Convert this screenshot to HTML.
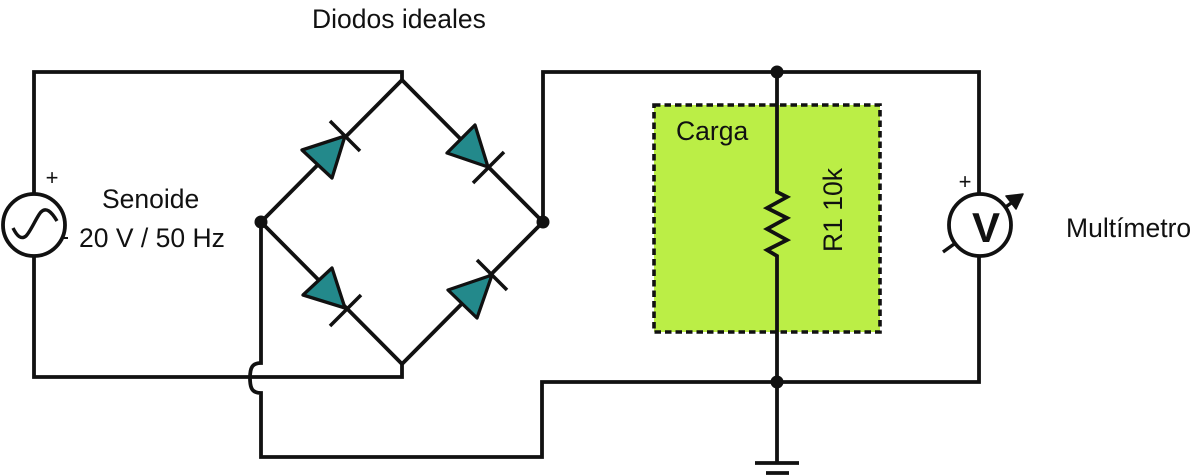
<!DOCTYPE html>
<html>
<head>
<meta charset="utf-8">
<style>
html,body{margin:0;padding:0;background:#fff;}
svg{display:block;}
text{font-family:"Liberation Sans",Arial,sans-serif;fill:#111;}
</style>
</head>
<body>
<svg width="1200" height="476" viewBox="0 0 1200 476" xmlns="http://www.w3.org/2000/svg">
  <rect width="1200" height="476" fill="#fff"/>

  <!-- Load box -->
  <rect x="654" y="105" width="226" height="227" fill="#bbee46" stroke="#111" stroke-width="3.6" stroke-dasharray="6.5 4" stroke-linecap="butt"/>

  <g fill="none" stroke="#111" stroke-width="3.8" stroke-linejoin="miter" stroke-linecap="butt">
    <!-- source top wire -->
    <path d="M34,194 V72 H402 V80"/>
    <!-- diamond -->
    <path d="M402,80 L261,222 L402,364 L543,222 Z"/>
    <!-- source bottom wire -->
    <path d="M402,364 V377 H34 V257"/>
    <!-- left node down with hop -->
    <path d="M261,222 V363 C252,363 250,368 250,378 C250,388 252,393 261,393 V457 H542 V382 H979 V256"/>
    <!-- right node up -->
    <path d="M543,222 V72 H979 V194"/>
    <!-- resistor branch -->
    <path d="M777,72 V192 L787,197 L767,208 L787,218 L767,229 L787,240 L767,250 L777,256 V382 V463"/>
    <!-- ground -->
    <path d="M755,463 H799"/>
    <path d="M766,473 H789"/>
    <!-- minus sign of source -->
    <path d="M62,238 H68" stroke-width="2"/>
    <!-- voltmeter arrow line -->
    <path d="M943,252 L1014,201" stroke-width="3.4"/>
  </g>

  <!-- source -->
  <circle cx="34" cy="225" r="31" fill="#fff" stroke="#111" stroke-width="3.8"/>
  <path d="M13,228 C17,236 21,240 26,236 C31,231 37,216 41,212 C46,207 51,211 57,221" fill="none" stroke="#111" stroke-width="3.4"/>

  <!-- voltmeter -->
  <circle cx="980" cy="225" r="31" fill="#fff" stroke="#111" stroke-width="3.8"/>
  <polygon points="1023,194 1016,209 1006,196" fill="#111" stroke="#111" stroke-width="1.5" stroke-linejoin="round"/>
  <text x="986" y="242" font-size="42" font-weight="bold" text-anchor="middle">V</text>

  <!-- diodes -->
  <g fill="#23898b" stroke="#111" stroke-width="3.3" stroke-linejoin="round">
    <polygon points="345,136 302,150 332,178"/>
    <polygon points="488,167 447,153 475,125"/>
    <polygon points="345,308 303,295 332,268"/>
    <polygon points="492,275 448,290 477,318"/>
  </g>
  <g stroke="#111" stroke-width="3.5" fill="none">
    <path d="M330,121 L360,151"/>
    <path d="M473,183 L504,152"/>
    <path d="M330,326 L361,295"/>
    <path d="M477,260 L507,290"/>
  </g>

  <!-- nodes -->
  <g fill="#111">
    <circle cx="261" cy="222" r="6.5"/>
    <circle cx="543" cy="222" r="6.5"/>
    <circle cx="777" cy="72" r="6.5"/>
    <circle cx="777" cy="382" r="6.5"/>
  </g>

  <!-- labels -->
  <text x="312" y="28" font-size="26.5">Diodos ideales</text>
  <text x="102" y="208" font-size="26.5">Senoide</text>
  <text x="79" y="247" font-size="26.5">20 V / 50 Hz</text>
  <text x="676" y="140" font-size="26.5">Carga</text>
  <text transform="translate(842,210) rotate(-90)" x="0" y="0" font-size="26.5" text-anchor="middle">R1 10k</text>
  <text x="1066" y="237" font-size="26.5">Multímetro</text>
  <text x="52" y="185" font-size="22" text-anchor="middle">+</text>
  <text x="965" y="189" font-size="22" text-anchor="middle">+</text>
</svg>
</body>
</html>
